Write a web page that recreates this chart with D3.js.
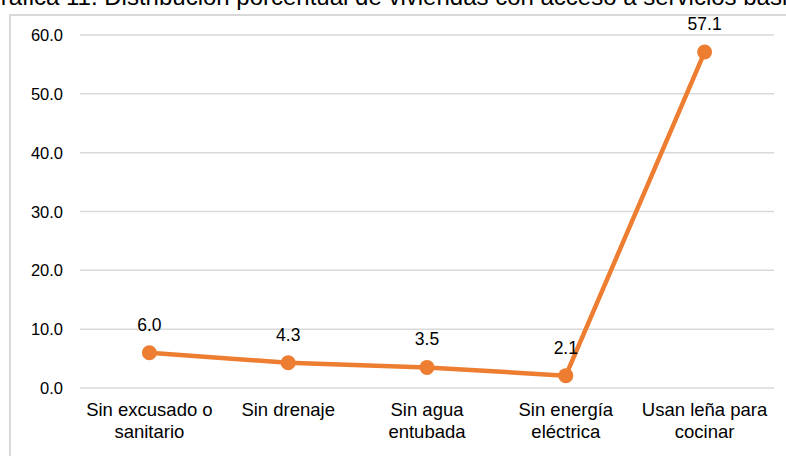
<!DOCTYPE html>
<html>
<head>
<meta charset="utf-8">
<script src="https://cdn.jsdelivr.net/npm/d3@7"></script>
<style>
  body { margin: 0; background: #fff; }
  svg { display: block; font-family: Arial, "Liberation Sans", sans-serif; }
</style>
</head>
<body>
<div id="chart"></div>
<script>
// data
const categories = [["Sin excusado o", "sanitario"], ["Sin drenaje"], ["Sin agua", "entubada"], ["Sin energía", "eléctrica"], ["Usan leña para", "cocinar"]];
const values = [6.0, 4.3, 3.5, 2.1, 57.1];
const yTicks = [0, 10, 20, 30, 40, 50, 60];
const title = "Gráfica 11. Distribución porcentual de viviendas con acceso a servicios básicos";

const W = 786, H = 456;
const svg = d3.select("#chart").append("svg")
    .attr("width", W)
    .attr("height", H);

// title, clipped by the top edge like in the picture
svg.append("text")
    .attr("x", -18)
    .attr("y", 5)
    .style("font-size", "24px")
    .attr("fill", "#000")
    .text(title);

// chart frame
svg.append("rect")
    .attr("x", 10)
    .attr("y", 15)
    .attr("width", 800)
    .attr("height", 460)
    .attr("fill", "none")
    .attr("stroke", "#d9d9d9")
    .attr("stroke-width", 2);

const x = d3.scalePoint()
    .domain(d3.range(categories.length))
    .range([80, 774])
    .padding(0.5);

const y = d3.scaleLinear()
    .domain([0, 60])
    .range([388, 35]);

// gridlines
svg.append("g")
  .selectAll("line")
  .data(yTicks)
  .join("line")
    .attr("x1", 80)
    .attr("x2", 774)
    .attr("y1", d => y(d))
    .attr("y2", d => y(d))
    .attr("stroke", "#d9d9d9")
    .attr("stroke-width", 1.5);

// y tick labels
svg.append("g")
  .selectAll("text")
  .data(yTicks)
  .join("text")
    .attr("x", 63)
    .attr("y", d => y(d) + 6)
    .attr("text-anchor", "end")
    .style("font-size", "16.5px")
    .attr("fill", "#000")
    .text(d => d.toFixed(1));

// x category labels
const xl = svg.append("g")
  .selectAll("text")
  .data(categories)
  .join("text")
    .attr("text-anchor", "middle")
    .style("font-size", "18.5px")
    .attr("fill", "#000");
xl.selectAll("tspan")
  .data((d, i) => d.map(s => ({s, i})))
  .join("tspan")
    .attr("x", d => x(d.i))
    .attr("y", (d, j) => 416 + j * 22)
    .text(d => d.s);

// line
const line = d3.line()
    .x((d, i) => x(i))
    .y(d => y(d));

svg.append("path")
    .datum(values)
    .attr("d", line)
    .attr("fill", "none")
    .attr("stroke", "#ed7d31")
    .attr("stroke-width", 4.5)
    .attr("stroke-linejoin", "round");

svg.append("g")
  .selectAll("circle")
  .data(values)
  .join("circle")
    .attr("cx", (d, i) => x(i))
    .attr("cy", d => y(d))
    .attr("r", 7.5)
    .attr("fill", "#ed7d31");

// value labels
svg.append("g")
  .selectAll("text")
  .data(values)
  .join("text")
    .attr("x", (d, i) => x(i))
    .attr("y", d => y(d) - 22)
    .attr("text-anchor", "middle")
    .style("font-size", "17.5px")
    .attr("fill", "#000")
    .text(d => d.toFixed(1));
</script>
</body>
</html>
